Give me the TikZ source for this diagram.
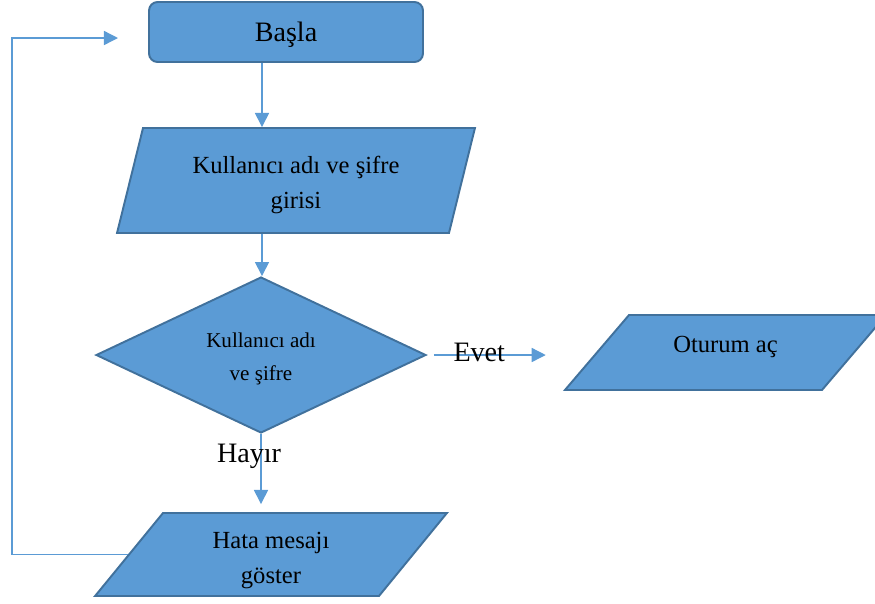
\documentclass[tikz,border=0pt]{standalone}
\usepackage{fontspec}
\setmainfont{Liberation Serif}
\usetikzlibrary{positioning,shapes.geometric,arrows.meta}
\definecolor{boxblue}{HTML}{5B9BD5}
\definecolor{edgeblue}{HTML}{41719C}
\definecolor{lineblue}{HTML}{5B9BD5}

\begin{document}
\begin{tikzpicture}[
  x=0.02cm, y=-0.02cm,
  startbox/.style={rectangle, rounded corners=0.17cm, draw=edgeblue, fill=boxblue, line width=1.1pt,
                   minimum width=5.48cm, minimum height=1.2cm, inner sep=0pt, text depth=0pt,
                   font=\fontsize{16}{19}\selectfont},
  iobox/.style={trapezium, draw=edgeblue, fill=boxblue, line width=1.1pt,
                inner sep=0pt, align=flush center, font=\fontsize{14}{20}\selectfont},
  decision/.style={diamond, shape aspect=2.1, draw=edgeblue, fill=boxblue, line width=1.1pt, inner sep=0pt,
                   minimum width=6.6cm, minimum height=3.12cm, align=center,
                   font=\fontsize{12}{18.5}\selectfont},
  arrow/.style={-{Triangle[length=8pt, width=8pt]}, line width=0.8pt, color=lineblue},
  answer/.style={font=\fontsize{16}{19}\selectfont, text=black, inner sep=0pt}
]
\useasboundingbox (0,0) rectangle (875,603);

\node[startbox] (start) at (286,32) {Başla};
\node[iobox, trapezium left angle=76.1, trapezium right angle=103.9,
      text width=6.12cm, text height=0.9cm, text depth=1.2cm] (inp) at (296,180.5)
      {Kullanıcı adı ve şifre\\girisi};
\node[decision, text height=1.1cm, text depth=0.1cm] (dec) at (261,355) {Kullanıcı adı\\ve şifre};
\node[iobox, trapezium left angle=49.5, trapezium right angle=130.5,
      text width=3.86cm, text height=0.74cm, text depth=0.76cm] (out) at (725.5,352.5) {Oturum aç};
\node[iobox, trapezium left angle=50.7, trapezium right angle=129.3,
      text width=4.32cm, text height=0.7cm, text depth=0.96cm] (err) at (271,554.5)
      {Hata mesajı\\göster};

\coordinate (spine) at (262,0);
\coordinate (corner) at (12,38);
\coordinate (ret) at (118,38);

\draw[arrow] (start.south -| spine) -- (inp.north -| spine);
\draw[arrow] (inp.south -| spine) -- (dec.north -| spine);
\draw[arrow, shorten <=0.14cm, shorten >=1cm] (dec.east) -- (dec.east -| out.west)
  node[answer, pos=0.31, yshift=0.06cm] {Evet};
\draw[arrow, shorten >=0.16cm] (dec.south) -- (err.north -| dec.south)
  node[answer, pos=0.29, xshift=-0.24cm] {Hayır};
% back to the start
\draw[arrow] (err.west) -| (corner) -- (ret);
\end{tikzpicture}
\end{document}
